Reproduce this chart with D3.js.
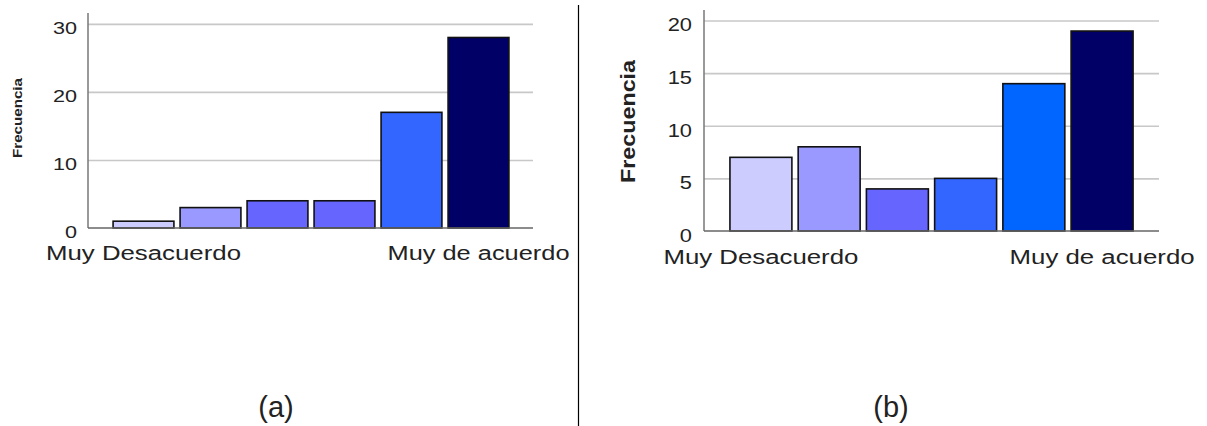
<!DOCTYPE html>
<html>
<head>
<meta charset="utf-8">
<script src="https://cdn.jsdelivr.net/npm/d3@7"></script>
<style>
  body { margin:0; background:#fff; }
  text { font-family: Arial, "Liberation Sans", sans-serif; fill:#222; }
</style>
</head>
<body>
<div id="chart"></div>
<script>
// =====================================================================
// data
var categories = ["1", "2", "3", "4", "5", "6"];
var endLabels = ["Muy Desacuerdo", "Muy de acuerdo"];
var valuesA = [1, 3, 4, 4, 17, 28];
var valuesB = [7, 8, 4, 5, 14, 19];
var ticksA = [0, 10, 20, 30];
var ticksB = [0, 5, 10, 15, 20];
var colorsA = ["#ccccff", "#9999ff", "#6666ff", "#6666ff", "#3366ff", "#000066"];
var colorsB = ["#ccccff", "#9999ff", "#6666ff", "#3366ff", "#0066ff", "#000066"];
var yTitle = "Frecuencia";
var captions = ["(a)", "(b)"];

// =====================================================================
// layout of the two panels
var size = { width:1207, height:426 };
var panels = [
    { values:valuesA, ticks:ticksA, colors:colorsA, caption:captions[0],
      axisX:88, gridRight:533, bandL:110, bandR:512, top:13, base:228, yMax:31.6,
      tickFont:17, tickScale:1.27, tickGap:11, titleX:17.5, titleY:118, titleFont:12, titleLen:80,
      labelFont:20, labelLen:[195, 182], labelY:260, capX:276 },
    { values:valuesB, ticks:ticksB, colors:colorsB, caption:captions[1],
      axisX:704, gridRight:1159, bandL:726.8, bandR:1136.2, top:10, base:231, yMax:21,
      tickFont:19, tickScale:1.15, tickGap:12, titleX:628, titleY:121.5, titleFont:20, titleLen:123,
      labelFont:20, labelLen:[195, 185], labelY:264, capX:891 }
];

var svg = d3.select("#chart").append("svg")
    .attr("width", size.width)
    .attr("height", size.height);

// divider between panels
svg.append("line")
    .attr("x1", 578.5).attr("x2", 578.5)
    .attr("y1", 5).attr("y2", size.height)
    .attr("stroke", "#000").attr("stroke-width", 1.2);

panels.forEach(function(p) {
    var g = svg.append("g");

    var x = d3.scaleBand()
        .domain(categories)
        .range([p.bandL, p.bandR])
        .paddingInner(0.092)
        .paddingOuter(0.046);

    var y = d3.scaleLinear()
        .domain([0, p.yMax])
        .range([p.base, p.top]);

    // gridlines
    g.append("g")
        .attr("transform", "translate(" + p.axisX + ",0)")
        .call(d3.axisRight(y).tickValues(p.ticks.slice(1)).tickSize(p.gridRight - p.axisX).tickFormat(""))
        .call(function(s) {
            s.select(".domain").remove();
            s.selectAll("line").attr("stroke", "#c8c8c8").attr("stroke-width", 1.6);
        });

    // tick labels (slightly widened like the original rendering)
    g.append("g")
        .attr("transform", "translate(" + p.axisX + ",0)")
        .call(d3.axisLeft(y).tickValues(p.ticks).tickSize(0))
        .call(function(s) {
            s.select(".domain").remove();
            s.selectAll("text")
                .attr("font-family", "Arial, 'Liberation Sans', sans-serif")
                .attr("font-size", p.tickFont)
                .attr("fill", "#222")
                .attr("x", -p.tickGap / p.tickScale)
                .attr("transform", "scale(" + p.tickScale + ",1)")
                .attr("dy", "0.55em");
        });

    // bars
    g.selectAll("rect.bar")
        .data(p.values)
        .enter().append("rect")
        .attr("class", "bar")
        .attr("x", function(d, i) { return x(categories[i]); })
        .attr("y", function(d) { return y(d); })
        .attr("width", x.bandwidth())
        .attr("height", function(d) { return y(0) - y(d); })
        .attr("fill", function(d, i) { return p.colors[i]; })
        .attr("stroke", "#111")
        .attr("stroke-width", 1.6);

    // axis lines
    g.append("line")
        .attr("x1", p.axisX).attr("x2", p.axisX)
        .attr("y1", p.top).attr("y2", y(0))
        .attr("stroke", "#777").attr("stroke-width", 1.5);
    g.append("line")
        .attr("x1", p.axisX).attr("x2", p.gridRight)
        .attr("y1", y(0)).attr("y2", y(0))
        .attr("stroke", "#666").attr("stroke-width", 1.6);

    // category labels at both ends
    [0, categories.length - 1].forEach(function(ci, k) {
        g.append("text")
            .attr("x", x(categories[ci]) + x.bandwidth() / 2)
            .attr("y", p.labelY)
            .attr("text-anchor", "middle")
            .attr("font-size", p.labelFont)
            .attr("textLength", p.labelLen[k])
            .attr("lengthAdjust", "spacingAndGlyphs")
            .text(endLabels[k]);
    });

    // y title
    g.append("text")
        .attr("transform", "translate(" + p.titleX + "," + p.titleY + ") rotate(-90)")
        .attr("text-anchor", "middle")
        .attr("dy", "0.35em")
        .attr("font-size", p.titleFont)
        .attr("font-weight", "bold")
        .attr("textLength", p.titleLen)
        .attr("lengthAdjust", "spacingAndGlyphs")
        .text(yTitle);

    // caption
    g.append("text")
        .attr("x", p.capX)
        .attr("y", 417)
        .attr("text-anchor", "middle")
        .attr("font-size", 29)
        .attr("fill", "#000")
        .text(p.caption);
});
</script>
</body>
</html>
